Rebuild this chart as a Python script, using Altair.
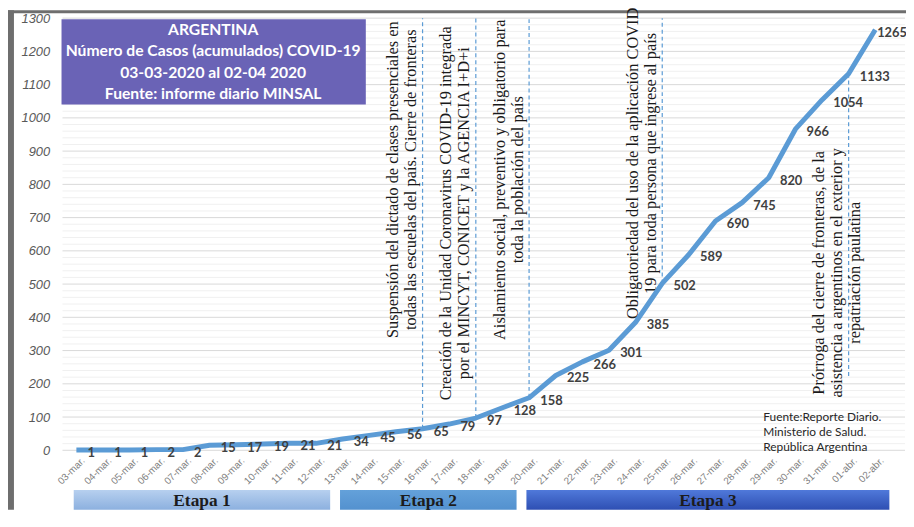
import altair as alt
import pandas as pd

# ---------------- data ----------------
dates = ["03-mar.", "04-mar.", "05-mar.", "06-mar.", "07-mar.", "08-mar.", "09-mar.",
         "10-mar.", "11-mar.", "12-mar.", "13-mar.", "14-mar.", "15-mar.", "16-mar.",
         "17-mar.", "18-mar.", "19-mar.", "20-mar.", "21-mar.", "22-mar.", "23-mar.",
         "24-mar.", "25-mar.", "26-mar.", "27-mar.", "28-mar.", "29-mar.", "30-mar.",
         "31-mar.", "01-abr.", "02-abr."]
cases = [1, 1, 1, 2, 2, 15, 17, 19, 21, 21, 34, 45, 56, 65, 79, 97, 128, 158, 225,
         266, 301, 385, 502, 589, 690, 745, 820, 966, 1054, 1133, 1265]

y_major = list(range(0, 1301, 100))
y_minor = [v for v in range(0, 1301, 20) if v % 100]

title_lines = ["ARGENTINA", "Número de Casos (acumulados) COVID-19",
               "03-03-2020 al 02-04 2020", "Fuente: informe diario MINSAL"]
source_lines = ["Fuente:Reporte Diario.", "Ministerio de Salud.", "República Argentina"]

event_dates = ["16-mar.", "18-mar.", "20-mar.", "25-mar.", "01-abr."]
event_rule_end = [1300, 1300, 1300, 1300, 220]
event_texts = [
    ["Suspensión del dictado de clases presenciales en",
     "todas las escuelas del país. Cierre de fronteras"],
    ["Creación de la Unidad Coronavirus COVID-19 integrada",
     "por el MINCYT, CONICET y la AGENCIA I+D+i"],
    ["Aislamiento social, preventivo y obligatorio para",
     "toda la población del país"],
    ["Obligatoriedad del uso de la aplicación COVID",
     "19 para toda persona que ingrese al país"],
    ["Prórroga del cierre de fronteras, de la",
     "asistencia a argentinos en el exterior y",
     "repatriación paulatina"],
]
event_text_center = [814, 713, 814, 863, 534]

stage_names = ["Etapa 1", "Etapa 2", "Etapa 3"]
stage_first = ["03-mar.", "13-mar.", "20-mar."]
stage_last = ["12-mar.", "19-mar.", "02-abr."]
stage_colors = [("#b7d0ef", "#8cb0df"), ("#64a1da", "#5391cf"), ("#5079da", "#2e4fb3")]

# ---------------- tables ----------------
idx = {d: i for i, d in enumerate(dates)}
last_i = len(dates) - 1
df = pd.DataFrame({"i": list(range(len(dates))), "fecha": dates, "casos": cases})
ev = pd.DataFrame({
    "i": [idx[d] for d in event_dates],
    "y": [cases[idx[d]] for d in event_dates],
    "y2": event_rule_end,
    "txt": ["\n".join(t) for t in event_texts],
    "yc": event_text_center,
})
st = pd.DataFrame({
    "name": stage_names,
    "a": [idx[d] for d in stage_first],
    "b": [idx[d] for d in stage_last],
})
one = pd.DataFrame({"k": [0]})

W, H = 850, 436
xscale = alt.Scale(domain=[-0.521, 31.117], nice=False, zero=False)
yscale = alt.Scale(domain=[0, 1300], nice=False, zero=True)

label_expr = "[" + ",".join("'%s'" % d for d in dates) + "][datum.value]"
xaxis = alt.Axis(values=list(range(len(dates))), labelExpr=label_expr, labelAngle=-45,
                 labelFontSize=10, labelColor="#7f7f7f", labelFont="Liberation Sans",
                 grid=False, ticks=False, domain=False, title=None, labelPadding=5,
                 labelOffset=3, labelOverlap=False, zindex=1)
yaxis = alt.Axis(values=y_major, format="d", labelFont="Liberation Sans",
                 labelFontStyle="italic", labelFontSize=13, labelColor="#595959",
                 grid=False, ticks=False, domain=False, title=None, labelPadding=13,
                 zindex=1)

FRAME = "#6e6e6e"

# frame strips (screenshot border)
top_strip = alt.Chart(one).mark_rect(color=FRAME).encode(
    x=alt.value(-55), x2=alt.value(W + 1), y=alt.value(-8), y2=alt.value(-5))
left_strip = alt.Chart(one).mark_rect(color=FRAME).encode(
    x=alt.value(-55), x2=alt.value(-49), y=alt.value(-8), y2=alt.value(H + 60))

# gridlines
grid_minor = alt.Chart(pd.DataFrame({"v": y_minor})).mark_rule(
    color="#f0f0f0", strokeWidth=1).encode(
    y=alt.Y("v:Q", scale=yscale, axis=yaxis))
grid_major = alt.Chart(pd.DataFrame({"v": y_major})).mark_rule(
    color="#d9d9d9", strokeWidth=1).encode(
    y=alt.Y("v:Q", scale=yscale, axis=yaxis))

# title box
title_box = alt.Chart(one).mark_rect(color="#6a63b6").encode(
    x=alt.value(-1), x2=alt.value(306), y=alt.value(1), y2=alt.value(87))
title_txt = alt.Chart(one).mark_text(
    color="white", font="Lato", fontWeight="bold", fontSize=15.8, lineHeight=21.5,
    lineBreak="\n", align="center", baseline="middle").encode(
    x=alt.value(152), y=alt.value(12), text=alt.value("\n".join(title_lines)))

# event rules & texts
ev_rules = alt.Chart(ev).mark_rule(color="#5b9bd5", strokeDash=[4, 3],
                                   strokeWidth=1.2).encode(
    x=alt.X("i:Q", scale=xscale, axis=xaxis),
    y=alt.Y("y:Q", scale=yscale, axis=yaxis),
    y2="y2:Q")
ev_text = alt.Chart(ev).transform_calculate(xt="datum.i - 1.1").mark_text(
    angle=270, align="center", baseline="middle", font="Liberation Serif",
    fontSize=16.5, lineHeight=18, lineBreak="\n", color="#1a1a1a").encode(
    x=alt.X("xt:Q", scale=xscale, axis=xaxis),
    y=alt.Y("yc:Q", scale=yscale, axis=yaxis),
    text="txt:N")

# main line
line = alt.Chart(df).mark_line(color="#5b9bd5", strokeWidth=5,
                               strokeJoin="round").encode(
    x=alt.X("i:Q", scale=xscale, axis=xaxis),
    y=alt.Y("casos:Q", scale=yscale, axis=yaxis))
labels = alt.Chart(df).transform_calculate(
    lx="datum.i + (datum.i == %d ? 0.07 : 0.42)" % last_i).mark_text(
    align="left", baseline="middle", dy=3, font="Lato", fontWeight="bold",
    fontSize=13, color="#404040").encode(
    x=alt.X("lx:Q", scale=xscale, axis=xaxis),
    y=alt.Y("casos:Q", scale=yscale, axis=yaxis),
    text="casos:Q")

source = alt.Chart(one).mark_text(
    align="left", baseline="middle", font="Lato", fontSize=12, lineHeight=15.5,
    lineBreak="\n", color="#262626").encode(
    x=alt.value(707), y=alt.value(402), text=alt.value("\n".join(source_lines)))

# stage bands
band_layers = []
for k, name in enumerate(stage_names):
    c0, c1 = stage_colors[k]
    grad = alt.Gradient(gradient="linear",
                        stops=[alt.GradientStop(color=c0, offset=0),
                               alt.GradientStop(color=c1, offset=1)],
                        x1=0, x2=0, y1=0, y2=1)
    band_layers.append(
        alt.Chart(st[st["name"] == name]).transform_calculate(
            x0="datum.a - 0.1", x1="datum.b + 0.53").mark_rect(color=grad).encode(
            x=alt.X("x0:Q", scale=xscale, axis=xaxis), x2="x1:Q",
            y=alt.value(H + 40), y2=alt.value(H + 60)))
band_text = alt.Chart(st).transform_calculate(
    xm="(datum.a - 0.1 + datum.b + 0.53) / 2").mark_text(
    font="Liberation Serif", fontWeight="bold", fontSize=17.5, color="#1c1c1c",
    align="center", baseline="middle").encode(
    x=alt.X("xm:Q", scale=xscale, axis=xaxis), y=alt.value(H + 51), text="name:N")

chart = alt.layer(
    top_strip, left_strip, grid_minor, grid_major, title_box, title_txt,
    ev_rules, ev_text, line, labels, source, *band_layers, band_text
).properties(
    width=W, height=H,
    autosize=alt.AutoSizeParams(type="none"),
    padding={"left": 55, "top": 8, "right": 1, "bottom": 60},
    background="white",
).configure_view(strokeWidth=0)

chart.save("out.html", embed_options={"renderer": "svg", "actions": False})
